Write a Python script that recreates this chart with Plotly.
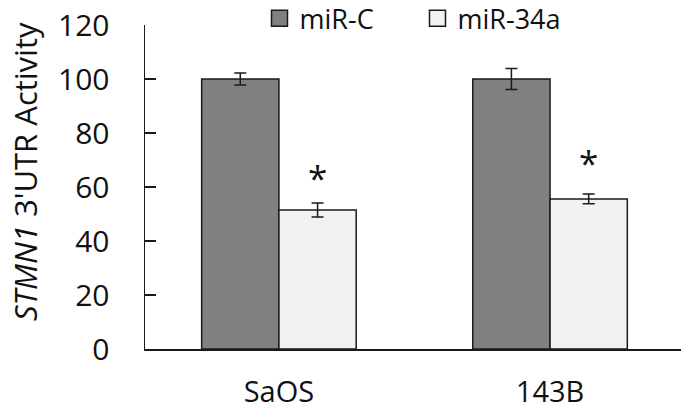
import plotly.graph_objects as go

categories = ["SaOS", "143B"]
series_names = ["miR-C", "miR-34a"]
mir_c = [100, 100]
mir_c_err = [2.2, 3.9]
mir_34a = [51.5, 55.6]
mir_34a_err = [2.6, 1.8]
star_y = [63.5, 69.0]
y_ticks = [0, 20, 40, 60, 80, 100, 120]

FONT = "Open Sans"
dark = "#808080"
light = "#f2f2f2"

fig = go.Figure()
bargap = 0.43
for name, vals, errs, col in [(series_names[0], mir_c, mir_c_err, dark),
                              (series_names[1], mir_34a, mir_34a_err, light)]:
    fig.add_trace(go.Bar(
        x=categories, y=vals, name=name, showlegend=False,
        marker=dict(color=col, line=dict(color="#1a1a1a", width=1.5)),
        error_y=dict(type="data", array=errs, visible=True, color="#1a1a1a",
                     thickness=1.5, width=6),
    ))
    fig.add_trace(go.Scatter(
        x=[None], y=[None], mode="markers", name=name,
        marker=dict(symbol="square", size=16, color=col,
                    line=dict(color="#1a1a1a", width=1.5)),
    ))

# significance stars above miR-34a bars
bar_w = (1 - bargap) / 2
for i, sy in enumerate(star_y):
    fig.add_annotation(x=i + bar_w / 2, y=sy, xref="x", yref="y", text="*",
                       showarrow=False, yanchor="middle",
                       font=dict(family=FONT, size=35, color="#111"))

fig.add_annotation(
    x=-0.224, y=0.549, xref="paper", yref="paper",
    text="<i>STMN1</i> 3'UTR Activity", textangle=-90, showarrow=False,
    font=dict(family=FONT, size=31, color="#111"), xanchor="center", yanchor="middle")

fig.update_layout(
    width=681, height=413,
    margin=dict(l=145, r=0, t=25, b=64, autoexpand=False),
    paper_bgcolor="white", plot_bgcolor="white",
    barmode="group", bargap=bargap, bargroupgap=0,
    hovermode=False,
    font=dict(family=FONT, color="#111"),
    legend=dict(orientation="h", x=0.2136, xanchor="left", y=0.955, yanchor="middle",
                yref="container",
                font=dict(family=FONT, size=27, color="#111"),
                entrywidth=113, entrywidthmode="pixels",
                bgcolor="rgba(0,0,0,0)", itemclick=False),
)
fig.update_xaxes(range=[-0.494, 1.483], showline=True, linecolor="#1a1a1a", linewidth=1.5,
                 ticks="", tickfont=dict(family=FONT, size=29, color="#111"),
                 showgrid=False, zeroline=False, ticklabelstandoff=17, automargin=False,
                 ticklabeloverflow="allow")
fig.update_yaxes(range=[0, 120], tickvals=y_ticks, showline=True, linecolor="#1a1a1a",
                 linewidth=1.5, ticks="inside", ticklen=11, tickwidth=1.5, tickcolor="#1a1a1a",
                 tickfont=dict(family=FONT, size=30, color="#111"), showgrid=False,
                 zeroline=False, ticklabelstandoff=28, automargin=False,
                 ticklabeloverflow="allow")

fig.write_html("out.html", config={"displayModeBar": False, "staticPlot": True},
               post_script="document.body.style.margin='0';document.body.style.overflow='hidden';")
